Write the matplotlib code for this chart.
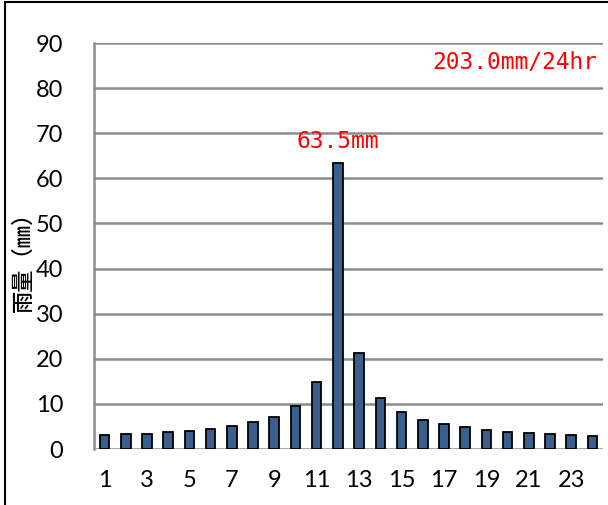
import numpy as np
import matplotlib.pyplot as plt
from matplotlib.patches import Rectangle

hours = np.arange(1, 25)
rain = [3.0, 3.25, 3.3, 3.7, 4.0, 4.4, 5.0, 5.9, 7.2, 9.5, 14.8, 63.5,
        21.2, 11.3, 8.2, 6.4, 5.5, 4.9, 4.2, 3.8, 3.5, 3.25, 3.0, 2.95]
tick_labels = [str(h) if h % 2 == 1 else "" for h in hours]
total_text = "203.0mm/24hr"
peak_text = "63.5mm"

plt.rcParams['font.family'] = ['Lato', 'Noto Sans CJK JP', 'DejaVu Sans']

fig = plt.figure(figsize=(6.08, 5.05), dpi=100)
ax = fig.add_axes([94 / 608, 1 - 449 / 505, (603 - 94) / 608, (449 - 43) / 505])

x = np.arange(len(hours))
ax.bar(x, rain, width=0.45, color='#3a5f8f', edgecolor='black', linewidth=1.3, zorder=3)

ax.set_xlim(-0.5, 23.5)
ax.set_ylim(0, 90)
ax.set_yticks(np.arange(0, 91, 10))
ax.set_xticks(x)
ax.set_xticklabels(tick_labels)
ax.tick_params(length=0, labelsize=17)
ax.tick_params(axis='x', pad=15)
ax.tick_params(axis='y', pad=22)
ax.grid(axis='y', color='#8c8c8c', linewidth=1.8, zorder=0)

for s in ['top', 'right', 'bottom']:
    ax.spines[s].set_visible(False)
ax.spines['left'].set_color('#8c8c8c')
ax.spines['left'].set_linewidth(1.8)

ax.set_ylabel("雨量（㎜）", family=['Noto Sans CJK JP', 'DejaVu Sans'], fontsize=16,
              fontweight='medium')
ax.yaxis.set_label_coords(-0.117, 0.475)

ax.text(0.988, 85.6, total_text, transform=ax.get_yaxis_transform(), ha='right', va='center',
        color='red', fontsize=16.5, family='DejaVu Sans Mono')
ax.text(11, 68.2, peak_text, ha='center', va='center', color='red', fontsize=16.5,
        family='DejaVu Sans Mono')

fig.patches.append(Rectangle((5 / 608, -0.1), 1.2, 1.1 - 1.5 / 505, transform=fig.transFigure,
                             fill=False, edgecolor='black', linewidth=1.5))

fig.savefig("out.png", dpi=100)
